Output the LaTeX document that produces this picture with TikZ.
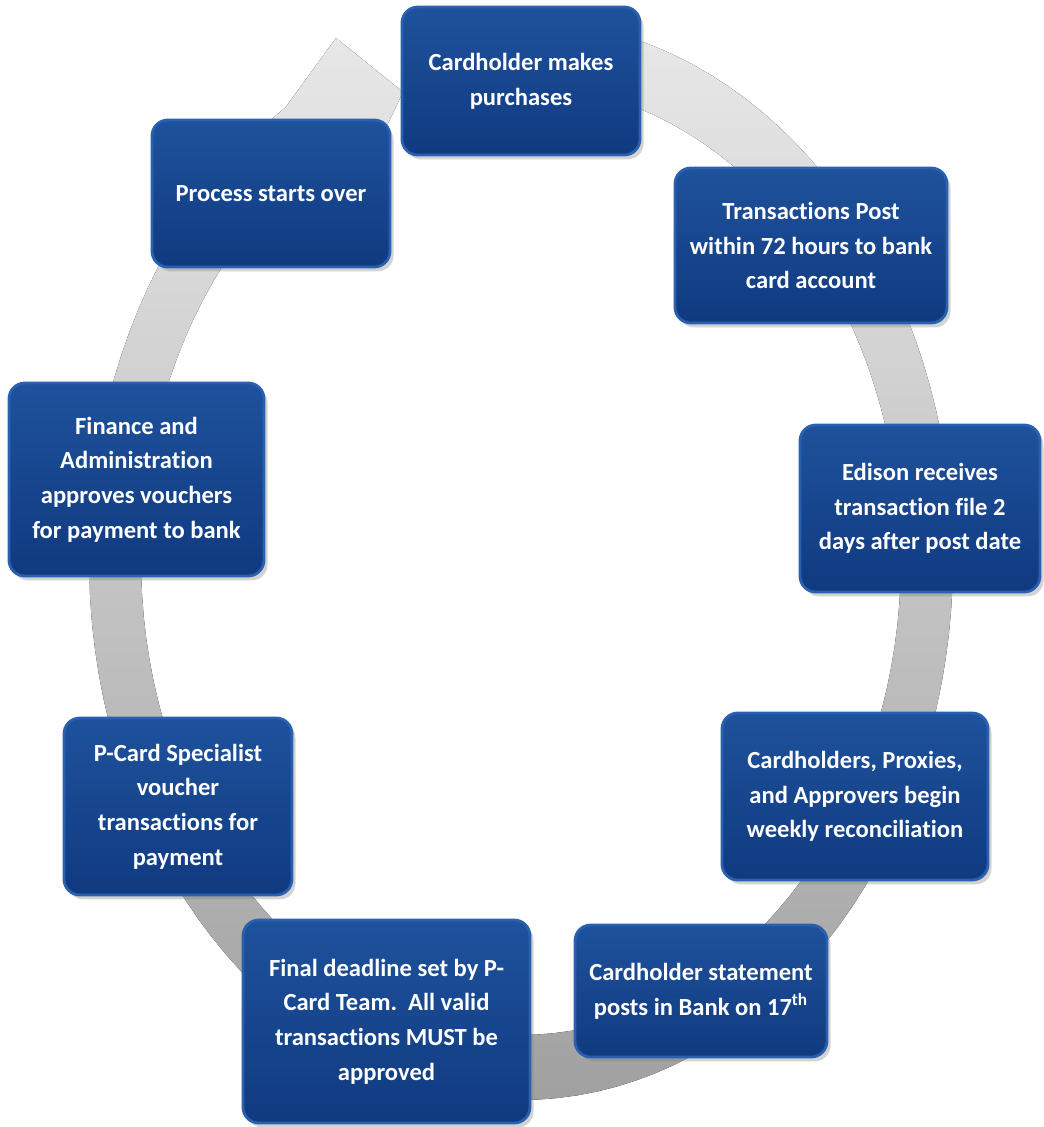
\documentclass[tikz,border=0pt]{standalone}
\usepackage{fontspec}
\setmainfont{Carlito}[Ligatures=NoCommon]
\usepackage{tikz}
\usetikzlibrary{shadows}
\definecolor{boxtop}{RGB}{30,82,156}
\definecolor{boxbot}{RGB}{16,58,128}
\definecolor{boxrim}{RGB}{42,96,176}
\newcommand{\pxu}{0.02cm}
\tikzset{
  >=latex,
}
\tikzstyle{ring}=[top color=gray!18,bottom color=gray!74]
\tikzstyle{stepbox}=[rounded corners=9pt,top color=boxtop,bottom color=boxbot,
  draw=boxrim,line width=1.6pt,text=white,align=center,inner sep=4pt,
  drop shadow={opacity=.35,shadow xshift=2pt,shadow yshift=-2.5pt},
  font=\bfseries\fontsize{14}{19.8}\selectfont]

\begin{document}
\begin{tikzpicture}[x=\pxu,y=-\pxu]
    \useasboundingbox (0,0) rectangle (1044,1127);
    % the gray cycle arrow behind the boxes
    \fill[ring] plot[domain=-80:237,samples=120] ({521+432*cos(\x)},{560+540*sin(\x)})
      -- (336,38) -- (403,92) -- (362,178)
      -- plot[domain=237:-80,samples=120] ({521+380*cos(\x)},{560+475*sin(\x)}) -- cycle;

    \node[stepbox,minimum width=238*\pxu,minimum height=148*\pxu] (purch) at (521,81)
      {Cardholder makes\\purchases};
    \node[stepbox,minimum width=272*\pxu,minimum height=155*\pxu] (post) at (811,245.5)
      {Transactions Post\\within 72 hours to bank\\card account};
    \node[stepbox,minimum width=240*\pxu,minimum height=167*\pxu] (edison) at (920,508.5)
      {Edison receives\\transaction file 2\\days after post date};
    \node[stepbox,minimum width=266*\pxu,minimum height=167*\pxu] (recon) at (855,796.5)
      {Cardholders, Proxies,\\and Approvers begin\\weekly reconciliation};
    \node[stepbox,minimum width=252*\pxu,minimum height=132*\pxu] (stmt) at (701,991)
      {Cardholder statement\\posts in Bank on 17\textsuperscript{th}};
    \node[stepbox,minimum width=287*\pxu,minimum height=203*\pxu] (final) at (386.5,1021.5)
      {Final deadline set by P-\\Card Team.\ \ All valid\\transactions MUST be\\approved};
    \node[stepbox,minimum width=228*\pxu,minimum height=177*\pxu] (pcard) at (178,806.5)
      {P-Card Specialist\\voucher\\transactions for\\payment};
    \node[stepbox,minimum width=255*\pxu,minimum height=193*\pxu] (finance) at (136.5,479.5)
      {Finance and\\Administration\\approves vouchers\\for payment to bank};
    \node[stepbox,minimum width=238*\pxu,minimum height=147*\pxu] (over) at (271,193.5)
      {Process starts over};
  \end{tikzpicture}
\end{document}
